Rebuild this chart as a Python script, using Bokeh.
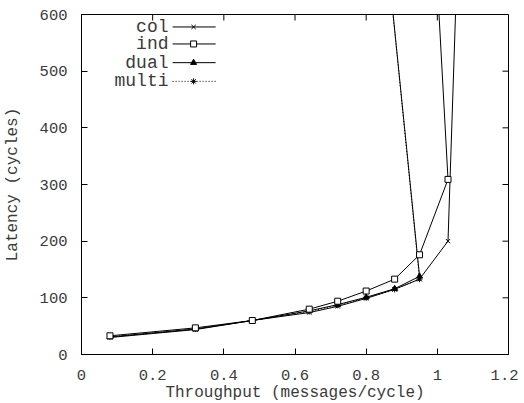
from bokeh.plotting import figure
from bokeh.models import FixedTicker, Range1d
from bokeh.core.properties import value
from bokeh.embed import file_html
from bokeh.resources import INLINE

# ---- data ----
col_x = [0.08, 0.32, 0.48, 0.64, 0.72, 0.80, 0.88, 0.95, 1.03, 1.06]
col_y = [30, 44, 60, 74, 85, 99, 115, 133, 200, 770]

ind_x = [0.08, 0.32, 0.48, 0.64, 0.72, 0.80, 0.88, 0.95, 1.03, 0.97]
ind_y = [33, 47, 60, 80, 94, 112, 133, 176, 309, 1000]

dual_x = [0.08, 0.32, 0.48, 0.64, 0.72, 0.80, 0.88, 0.95, 0.85]
dual_y = [31, 45, 60, 77, 88, 101, 116, 138, 760]

multi_x = [0.08, 0.32, 0.48, 0.64, 0.72, 0.80, 0.88, 0.95, 0.85]
multi_y = [31, 45, 60, 76, 87, 100, 115, 133, 760]

series_names = ["col", "ind", "dual", "multi"]
x_ticks = [0, 0.2, 0.4, 0.6, 0.8, 1.0, 1.2]
x_tick_labels = ["0", "0.2", "0.4", "0.6", "0.8", "1", "1.2"]
y_ticks = [0, 100, 200, 300, 400, 500, 600]

X_MIN, X_MAX, Y_MIN, Y_MAX = 0, 1.2, 0, 600
FW, FH = 427, 340
TICK = 6

FONT = "Liberation Mono"
TXT = "#3a3a3a"

p = figure(width=516, height=400, output_backend="svg", toolbar_location=None,
           x_range=Range1d(X_MIN, X_MAX), y_range=Range1d(Y_MIN, Y_MAX),
           frame_width=FW, frame_height=FH,
           min_border_left=79, min_border_top=14, min_border_right=10, min_border_bottom=46,
           x_axis_label="Throughput (messages/cycle)", y_axis_label="Latency (cycles)")
p.grid.visible = False
p.outline_line_color = "black"
p.outline_line_width = 1
p.background_fill_color = "white"
p.border_fill_color = "white"

for ax in (p.xaxis[0], p.yaxis[0]):
    ax.major_tick_in = TICK
    ax.major_tick_out = 0
    ax.minor_tick_in = 0
    ax.minor_tick_out = 0
    ax.axis_line_color = "black"
    ax.major_tick_line_color = "black"
    ax.major_label_text_font = FONT
    ax.major_label_text_font_size = "15.5px"
    ax.major_label_text_color = TXT
    ax.axis_label_text_font = FONT
    ax.axis_label_text_font_size = "16px"
    ax.axis_label_text_font_style = "normal"
    ax.axis_label_text_color = TXT

p.xaxis[0].ticker = FixedTicker(ticks=x_ticks)
p.xaxis[0].major_label_overrides = {t: l for t, l in zip(x_ticks, x_tick_labels)}
p.yaxis[0].ticker = FixedTicker(ticks=y_ticks)
p.xaxis[0].major_label_standoff = 15
p.yaxis[0].major_label_standoff = 14
p.xaxis[0].axis_label_standoff = 1
p.yaxis[0].axis_label_standoff = 15

# mirrored ticks on top and right (drawn as segments from the tick lists)
dy = (Y_MAX - Y_MIN) / FH * TICK
dx = (X_MAX - X_MIN) / FW * TICK
p.segment(x0=x_ticks, y0=[Y_MAX] * len(x_ticks), x1=x_ticks, y1=[Y_MAX - dy] * len(x_ticks),
          line_color="black", line_width=1)
p.segment(x0=[X_MAX] * len(y_ticks), y0=y_ticks, x1=[X_MAX - dx] * len(y_ticks), y1=y_ticks,
          line_color="black", line_width=1)

# ---- series ----
p.line(col_x, col_y, line_color="black", line_width=1)
p.scatter(col_x, col_y, marker="x", size=6, line_color="black", line_width=1)

p.line(multi_x, multi_y, line_color="black", line_width=1, line_dash="1 2")
p.scatter(multi_x, multi_y, marker="asterisk", size=6, line_color="black", line_width=1)

p.line(dual_x, dual_y, line_color="black", line_width=1)
p.scatter(dual_x, dual_y, marker="triangle", size=6, line_color="black", fill_color="black")

p.line(ind_x, ind_y, line_color="black", line_width=1)
p.scatter(ind_x, ind_y, marker="square", size=6, line_color="black", fill_color="white", line_width=1)

# ---- legend (gnuplot style: text right-aligned, sample on the right) ----
leg_y = [578, 548, 515, 482]
leg_text_x = 0.2445
leg_line = (0.256, 0.377)
leg_mark_x = 0.315
markers = [("x", None, 6), ("square", "white", 6), ("triangle", "black", 6), ("asterisk", None, 6)]
dashes = ["solid", "solid", "solid", "1 2"]

p.text(x=[leg_text_x] * 4, y=leg_y, text=series_names, text_align="right",
       text_baseline="middle", text_font=value(FONT), text_font_size="18px", text_color=TXT)
for yy, (m, fc, sz), d in zip(leg_y, markers, dashes):
    p.line([leg_line[0], leg_line[1]], [yy, yy], line_color="black", line_width=1, line_dash=d)
    if fc is None:
        p.scatter([leg_mark_x], [yy], marker=m, size=sz, line_color="black")
    else:
        p.scatter([leg_mark_x], [yy], marker=m, size=sz, line_color="black", fill_color=fc)

open("out.html", "w").write(file_html(p, INLINE))
